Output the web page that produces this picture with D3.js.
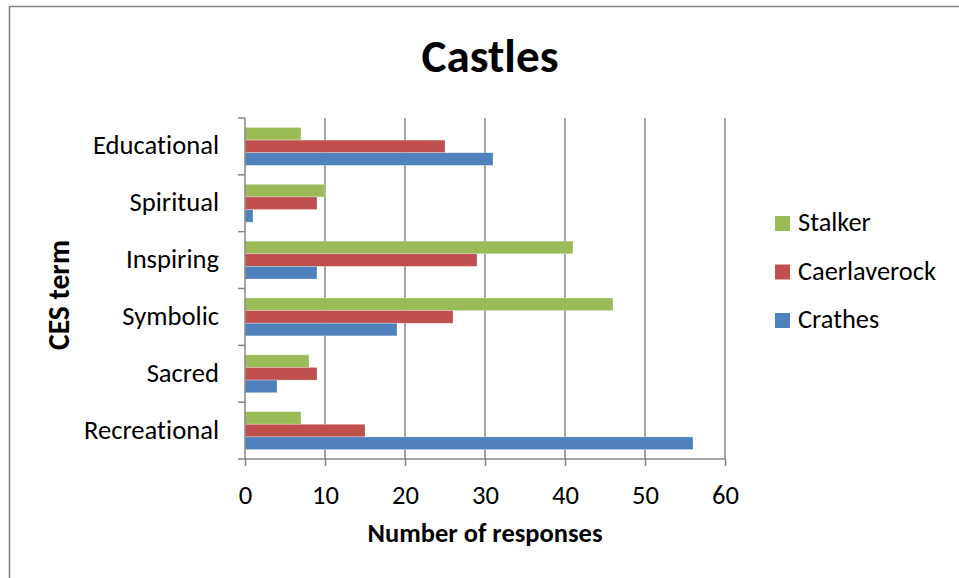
<!DOCTYPE html>
<html>
<head>
<meta charset="utf-8">
<script src="https://cdn.jsdelivr.net/npm/d3@7"></script>
<style>
html,body{margin:0;padding:0;background:#fff;}
svg{display:block;}
text{font-family:Carlito, Lato, "Open Sans", sans-serif;fill:#000;font-variant-ligatures:none;font-feature-settings:"liga" 0, "clig" 0;}
</style>
</head>
<body>
<svg id="chart" width="959" height="578"></svg>
<script>
const categories = ["Educational","Spiritual","Inspiring","Symbolic","Sacred","Recreational"];
const seriesNames = ["Stalker","Caerlaverock","Crathes"];
const stalker      = [7, 10, 41, 46, 8, 7];
const caerlaverock = [25, 9, 29, 26, 9, 15];
const crathes      = [31, 1, 9, 19, 4, 56];
const xTicks = [0,10,20,30,40,50,60];
const colors = ["#9BBB59","#C0504D","#4F81BD"];
const title = "Castles";
const xTitle = "Number of responses";
const yTitle = "CES term";

const seriesValues = [stalker, caerlaverock, crathes];
const svg = d3.select("#chart");
const grid = "#868686";

// outer chart frame
svg.append("path").attr("d","M9.5,578V6.5H959").attr("fill","none").attr("stroke",grid).attr("stroke-width",1.6);

const x = d3.scaleLinear().domain([0,60]).range([245,725]);
const y = d3.scaleBand().domain(categories).range([118,459]).paddingInner(0).paddingOuter(0);
const barH = y.bandwidth()/4.5;
const sub = d3.scaleBand().domain(seriesNames).range([0.75*barH, 3.75*barH]);

function fit(sel, target){
  const w = sel.node().getComputedTextLength();
  const fs = parseFloat(sel.attr("font-size"));
  sel.attr("font-size", fs*target/w);
}

// gridlines
svg.append("g").selectAll("line").data(xTicks.filter(d=>d>0)).join("line")
  .attr("x1",d=>x(d)).attr("x2",d=>x(d)).attr("y1",118).attr("y2",459)
  .attr("stroke",grid).attr("stroke-width",1.5);

// bars
const groups = svg.append("g").selectAll("g").data(categories).join("g")
  .attr("transform",c=>`translate(0,${y(c)})`);
groups.selectAll("rect").data((c,i)=>seriesNames.map((s,j)=>({s, v:seriesValues[j][i], j})))
  .join("rect")
  .attr("x",x(0)).attr("y",d=>sub(d.s)).attr("height",sub.bandwidth())
  .attr("width",d=>x(d.v)-x(0)).attr("fill",d=>colors[d.j])
  .attr("stroke","rgba(255,255,255,0.35)").attr("stroke-width",0.8);

// x axis
const xAxis = svg.append("g").attr("transform","translate(0,459)")
  .call(d3.axisBottom(x).tickValues(xTicks).tickSize(7).tickPadding(19).tickFormat(d3.format("d")));
xAxis.select(".domain").attr("stroke",grid).attr("stroke-width",1.5).attr("d","M245,0H725");
xAxis.selectAll(".tick line").attr("stroke",grid).attr("stroke-width",1.5);
xAxis.selectAll(".tick text").attr("font-size",23).attr("font-family","Carlito, Lato, sans-serif").attr("fill","#000").attr("dy",0).attr("y",45);

// y axis
const yTickPos = categories.map(c=>y(c)).concat([459]);
svg.append("line").attr("x1",245).attr("x2",245).attr("y1",118).attr("y2",459).attr("stroke",grid).attr("stroke-width",1.5);
svg.append("g").selectAll("line").data(yTickPos).join("line")
  .attr("x1",238).attr("x2",245).attr("y1",d=>d).attr("y2",d=>d).attr("stroke",grid).attr("stroke-width",1.5);
const yl = svg.append("g").selectAll("text").data(categories).join("text")
  .attr("x",219).attr("y",c=>y(c)+y.bandwidth()/2+8).attr("text-anchor","end")
  .attr("font-size",24).text(c=>c);
{
  const n = yl.filter(c=>c==="Educational");
  const w = n.node().getComputedTextLength();
  yl.attr("font-size", 24*126/w);
  xAxis.selectAll(".tick text").attr("font-size", 24*126/w);
}

// title
const t = svg.append("text").attr("x",490).attr("y",72).attr("text-anchor","middle")
  .attr("font-weight","bold").attr("font-size",42).text(title);
fit(t,137);

// x title
const xt = svg.append("text").attr("x",485).attr("y",542).attr("text-anchor","middle")
  .attr("font-weight","bold").attr("font-size",22).text(xTitle);
fit(xt,235);

// y title
const yt = svg.append("text").attr("transform","translate(69,295) rotate(-90)").attr("text-anchor","middle")
  .attr("font-weight","bold").attr("font-size",22).text(yTitle);
fit(yt,110);

// legend
const leg = svg.append("g").selectAll("g").data(seriesNames).join("g")
  .attr("transform",(d,i)=>`translate(775,${216+i*48.5})`);
leg.append("rect").attr("width",15).attr("height",15).attr("fill",(d,i)=>colors[i]);
const lt = leg.append("text").attr("x",23).attr("y",15).attr("font-size",24).text(d=>d);
{
  const n = lt.filter(d=>d==="Caerlaverock");
  const w = n.node().getComputedTextLength();
  lt.attr("font-size",24*138/w);
}
</script>
</body>
</html>
